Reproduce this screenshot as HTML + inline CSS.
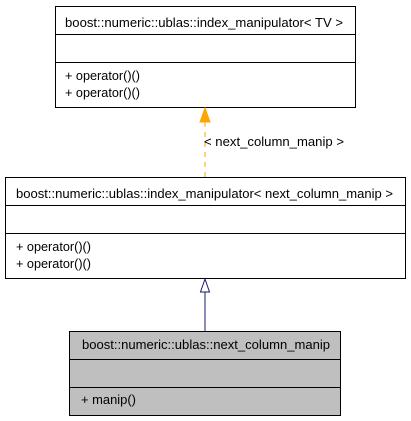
<!DOCTYPE html>
<html><head><style>
html,body{margin:0;padding:0;background:#fff;}
svg{display:block;}
text{font-family:"Liberation Sans",Arial,sans-serif;font-size:13px;fill:#000;}
</style></head><body>
<svg width="411" height="421" viewBox="0 0 411 421" xmlns="http://www.w3.org/2000/svg">
<g stroke="#000" stroke-width="1" fill="#fff">
<rect x="55.5" y="6.5" width="300" height="101"/>
<line x1="55.5" y1="34.5" x2="355.5" y2="34.5"/>
<line x1="55.5" y1="62.5" x2="355.5" y2="62.5"/>
<rect x="5.5" y="177.5" width="400" height="101"/>
<line x1="5.5" y1="205.5" x2="405.5" y2="205.5"/>
<line x1="5.5" y1="233.5" x2="405.5" y2="233.5"/>
<rect x="69.5" y="331.5" width="271" height="84" fill="#bfbfbf"/>
<line x1="69.5" y1="359.5" x2="340.5" y2="359.5"/>
<line x1="69.5" y1="387.5" x2="340.5" y2="387.5"/>
</g>
<text x="65" y="27" textLength="278" lengthAdjust="spacingAndGlyphs">boost::numeric::ublas::index_manipulator&lt; TV &gt;</text>
<text x="65" y="80" textLength="75" lengthAdjust="spacingAndGlyphs">+ operator()()</text>
<text x="65" y="97" textLength="75" lengthAdjust="spacingAndGlyphs">+ operator()()</text>
<text x="16" y="198" textLength="377" lengthAdjust="spacingAndGlyphs">boost::numeric::ublas::index_manipulator&lt; next_column_manip &gt;</text>
<text x="16" y="251" textLength="75" lengthAdjust="spacingAndGlyphs">+ operator()()</text>
<text x="16" y="268" textLength="75" lengthAdjust="spacingAndGlyphs">+ operator()()</text>
<text x="82" y="349" textLength="248" lengthAdjust="spacingAndGlyphs">boost::numeric::ublas::next_column_manip</text>
<text x="81" y="404" textLength="55" lengthAdjust="spacingAndGlyphs">+ manip()</text>
<line x1="205" y1="122" x2="205" y2="177" stroke="#ffa500" stroke-dasharray="5,5"/>
<polygon points="205,108 200,122 210,122" fill="#ffa500" stroke="#ffa500"/>
<text x="204" y="146" textLength="140" lengthAdjust="spacingAndGlyphs">&lt; next_column_manip &gt;</text>
<line x1="205" y1="292" x2="205" y2="331" stroke="#191970"/>
<polygon points="205,279 200.5,292 209.5,292" fill="#fff" stroke="#191970"/>
</svg>
</body></html>
